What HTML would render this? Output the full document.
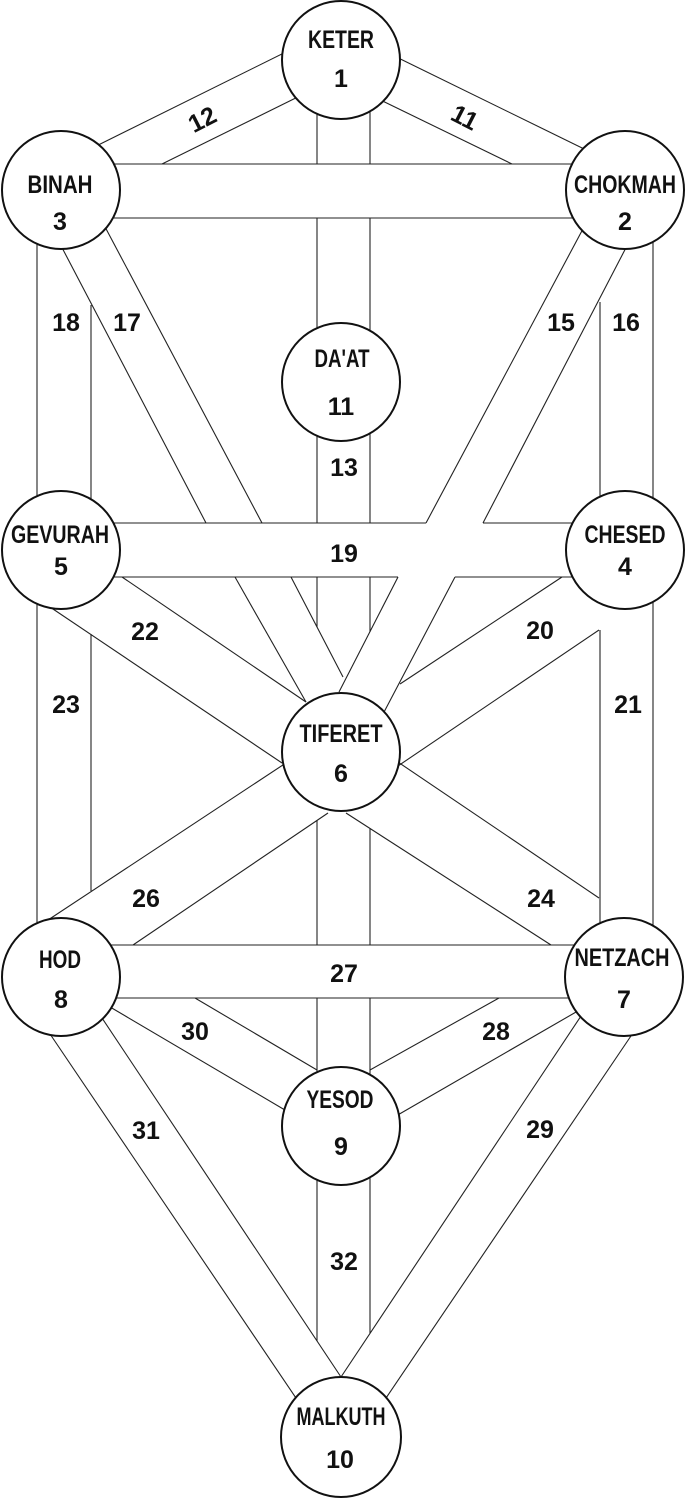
<!DOCTYPE html>
<html><head><meta charset="utf-8"><style>
html,body{margin:0;padding:0;background:#fff;}
svg{display:block;}
text{font-family:"Liberation Sans Narrow","Liberation Sans",sans-serif;font-weight:bold;fill:#111;font-size:25px;text-anchor:middle;}
</style></head><body>
<svg width="686" height="1500" viewBox="0 0 686 1500" xmlns="http://www.w3.org/2000/svg">
<g stroke="#222" stroke-width="1.1" fill="none">
<line x1="300" y1="45" x2="60" y2="164"/>
<line x1="320" y1="86" x2="162" y2="164"/>
<line x1="380" y1="49" x2="625" y2="169"/>
<line x1="360" y1="90" x2="512" y2="164"/>
<line x1="60" y1="164" x2="625" y2="164"/>
<line x1="60" y1="218" x2="625" y2="218"/>
<line x1="317" y1="60" x2="317" y2="164"/>
<line x1="317" y1="218" x2="317" y2="523"/>
<line x1="317" y1="577" x2="317" y2="627"/>
<line x1="317" y1="820" x2="317" y2="945"/>
<line x1="317" y1="998" x2="317" y2="1126"/>
<line x1="370" y1="60" x2="370" y2="164"/>
<line x1="370" y1="218" x2="370" y2="523"/>
<line x1="370" y1="577" x2="370" y2="632"/>
<line x1="370" y1="828" x2="370" y2="945"/>
<line x1="370" y1="998" x2="370" y2="1126"/>
<line x1="37" y1="190" x2="37" y2="977"/>
<line x1="91" y1="305" x2="91" y2="550"/>
<line x1="600" y1="302" x2="600" y2="550"/>
<line x1="653" y1="190" x2="653" y2="977"/>
<line x1="58" y1="240" x2="206" y2="523"/>
<line x1="235" y1="577" x2="306" y2="702"/>
<line x1="95" y1="208" x2="262" y2="523"/>
<line x1="291" y1="577" x2="343" y2="677"/>
<line x1="600" y1="197" x2="426" y2="523"/>
<line x1="398" y1="577" x2="339" y2="692"/>
<line x1="630" y1="240" x2="483" y2="523"/>
<line x1="455" y1="577" x2="383" y2="714"/>
<line x1="60" y1="523" x2="426" y2="523"/>
<line x1="483" y1="523" x2="625" y2="523"/>
<line x1="60" y1="577" x2="398" y2="577"/>
<line x1="455" y1="577" x2="625" y2="577"/>
<line x1="122" y1="577" x2="306" y2="702"/>
<line x1="50" y1="607" x2="282" y2="763"/>
<line x1="562" y1="577" x2="400" y2="684"/>
<line x1="599" y1="630" x2="395" y2="768"/>
<line x1="91" y1="634" x2="91" y2="891"/>
<line x1="600" y1="630" x2="600" y2="977"/>
<line x1="295" y1="757" x2="45" y2="922"/>
<line x1="328" y1="813" x2="133" y2="945"/>
<line x1="346" y1="813" x2="551" y2="945"/>
<line x1="392" y1="758" x2="599" y2="898"/>
<line x1="60" y1="945" x2="625" y2="945"/>
<line x1="60" y1="998" x2="625" y2="998"/>
<line x1="195" y1="998" x2="317" y2="1070"/>
<line x1="105" y1="1004" x2="290" y2="1113"/>
<line x1="499" y1="998" x2="370" y2="1070"/>
<line x1="583" y1="1008" x2="396" y2="1116"/>
<line x1="48" y1="1031" x2="298" y2="1401"/>
<line x1="100" y1="1015" x2="341" y2="1377"/>
<line x1="585" y1="1010" x2="341" y2="1377"/>
<line x1="635" y1="1030" x2="384" y2="1401"/>
<line x1="317" y1="1126" x2="317" y2="1341"/>
<line x1="370" y1="1126" x2="370" y2="1333"/>
</g>
<g stroke="#111" stroke-width="2" fill="#fff">
<circle cx="341" cy="60" r="59"/>
<circle cx="61" cy="190" r="59"/>
<circle cx="625" cy="190" r="59"/>
<circle cx="341" cy="382" r="59"/>
<circle cx="61" cy="550" r="59"/>
<circle cx="625" cy="550" r="59"/>
<circle cx="341" cy="752" r="59"/>
<circle cx="61" cy="977" r="59"/>
<circle cx="624" cy="977" r="59"/>
<circle cx="341" cy="1126" r="59"/>
<circle cx="341" cy="1437" r="60"/>
</g>
<text x="341" y="48" textLength="66" lengthAdjust="spacingAndGlyphs">KETER</text>
<text x="341" y="87">1</text>
<text x="60" y="193" textLength="65" lengthAdjust="spacingAndGlyphs">BINAH</text>
<text x="60" y="230">3</text>
<text x="625" y="193" textLength="102" lengthAdjust="spacingAndGlyphs">CHOKMAH</text>
<text x="625" y="230">2</text>
<text x="342" y="367" textLength="55" lengthAdjust="spacingAndGlyphs">DA'AT</text>
<text x="341" y="415">11</text>
<text x="60" y="543" textLength="98" lengthAdjust="spacingAndGlyphs">GEVURAH</text>
<text x="61" y="575">5</text>
<text x="625" y="543" textLength="81" lengthAdjust="spacingAndGlyphs">CHESED</text>
<text x="625" y="575">4</text>
<text x="341" y="742" textLength="83" lengthAdjust="spacingAndGlyphs">TIFERET</text>
<text x="341" y="782">6</text>
<text x="60" y="968" textLength="42" lengthAdjust="spacingAndGlyphs">HOD</text>
<text x="61" y="1008">8</text>
<text x="622" y="966" textLength="95" lengthAdjust="spacingAndGlyphs">NETZACH</text>
<text x="624" y="1008">7</text>
<text x="340" y="1108" textLength="67" lengthAdjust="spacingAndGlyphs">YESOD</text>
<text x="341" y="1155">9</text>
<text x="341" y="1425" textLength="89" lengthAdjust="spacingAndGlyphs">MALKUTH</text>
<text x="340" y="1468">10</text>
<text x="202" y="128" transform="rotate(-27 202 119)">12</text>
<text x="465" y="126" transform="rotate(27 465 117)">11</text>
<text x="66" y="331">18</text>
<text x="127" y="331">17</text>
<text x="561" y="331">15</text>
<text x="626" y="331">16</text>
<text x="344" y="476">13</text>
<text x="344" y="562">19</text>
<text x="145" y="640">22</text>
<text x="540" y="639">20</text>
<text x="66" y="713">23</text>
<text x="628" y="713">21</text>
<text x="146" y="907">26</text>
<text x="541" y="907">24</text>
<text x="344" y="982">27</text>
<text x="195" y="1040">30</text>
<text x="496" y="1040">28</text>
<text x="146" y="1139">31</text>
<text x="540" y="1138">29</text>
<text x="344" y="1270">32</text>
</svg>
</body></html>
